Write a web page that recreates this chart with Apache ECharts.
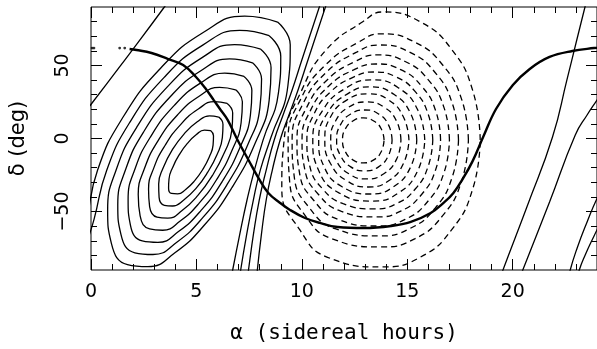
<!DOCTYPE html>
<html>
<head>
<meta charset="utf-8">
<script src="https://cdn.jsdelivr.net/npm/echarts@6/dist/echarts.min.js"></script>
<style>
html,body{margin:0;padding:0;background:#fff;}
#chart{width:597px;height:349px;}
</style>
</head>
<body>
<div id="chart"></div>
<script>
// Tick positions
const raMajor = [0, 5, 10, 15, 20];
const raMinor = [1, 2, 3, 4, 6, 7, 8, 9, 11, 12, 13, 14, 16, 17, 18, 19, 21, 22, 23];
const decMajor = [-50, 0, 50];
const decMinor = [-80, -70, -60, -40, -30, -20, -10, 10, 20, 30, 40, 60, 70, 80];

// Positive levels (solid), points as [alpha (h), delta (deg)], innermost first
const pos1 = [[5.67,5.4],[5.81,1.8],[5.79,-4.5],[5.61,-12.6],[5.30,-21.2],[4.91,-29.0],[4.49,-34.9],[4.11,-37.9],[3.82,-37.6],[3.68,-34.0],[3.70,-27.7],[3.88,-19.6],[4.19,-11.0],[4.58,-3.2],[5.00,2.7],[5.38,5.7]];
const pos2 = [[6.06,14.7],[6.26,9.6],[6.23,0.6],[5.98,-10.9],[5.53,-23.2],[4.99,-34.0],[4.40,-42.1],[3.87,-46.2],[3.48,-45.7],[3.23,-40.3],[3.21,-31.2],[3.43,-19.9],[3.85,-7.9],[4.42,3.2],[5.04,11.4],[5.62,15.5]];
const pos3 = [[6.46,24.0],[6.72,17.4],[6.68,5.7],[6.34,-9.3],[5.76,-25.3],[5.06,-39.1],[4.32,-49.3],[3.64,-54.5],[3.13,-53.8],[2.78,-46.6],[2.73,-34.8],[2.98,-20.1],[3.51,-4.8],[4.26,9.7],[5.09,20.2],[5.86,25.2]];
const pos4 = [[6.86,33.3],[7.18,25.2],[7.12,10.8],[6.70,-7.7],[5.99,-27.4],[5.14,-44.1],[4.23,-56.5],[3.40,-62.8],[2.78,-61.9],[2.33,-53.0],[2.24,-38.4],[2.54,-20.4],[3.17,-1.8],[4.10,16.1],[5.13,28.9],[6.10,35.0]];
const pos5 = [[7.26,42.5],[7.63,32.9],[7.56,15.9],[7.07,-6.0],[6.22,-29.5],[5.22,-49.2],[4.15,-63.7],[3.17,-71.1],[2.43,-70.1],[1.87,-59.3],[1.76,-41.9],[2.09,-20.7],[2.83,1.3],[3.94,22.5],[5.17,37.7],[6.34,44.8]];
const pos6 = [[7.66,51.8],[8.09,40.7],[8.01,21.0],[7.43,-4.4],[6.45,-31.6],[5.30,-54.2],[4.07,-71.0],[2.94,-79.4],[2.08,-78.2],[1.42,-65.6],[1.27,-45.5],[1.65,-20.9],[2.49,4.4],[3.78,28.9],[5.21,46.4],[6.57,54.5]];
const pos7 = [[8.05,61.1],[8.54,48.5],[8.45,26.1],[7.80,-2.8],[6.68,-33.7],[5.38,-59.2],[3.98,-78.2],[2.70,-87.7],[1.73,-86.3],[0.97,-71.9],[0.79,-49.1],[1.20,-21.2],[2.16,7.5],[3.62,35.3],[5.25,55.2],[6.81,64.3]];
const pos8 = [[8.45,70.4],[9.00,56.3],[8.89,31.2],[8.16,-1.1],[7.75,-21.6],[7.40,-42.1],[7.05,-66.0],[6.72,-90.0],[6.50,-106],[2.0,-110],[-0.6,-105],[-0.3,-78],[0.15,-55],[0.75,-21.5],[1.82,10.6],[3.46,41.7],[5.30,63.9],[7.05,74.0]];
const pos9 = [[8.85,79.7],[9.45,64.1],[9.34,36.3],[8.53,0.5],[8.03,-21.6],[7.70,-42.1],[7.38,-66.0],[7.10,-90.0],[6.95,-106],[2.0,-115],[-1.2,-110],[-0.8,-85],[-0.25,-58],[0.31,-21.7],[1.48,13.7],[3.30,48.1],[5.34,72.7],[7.29,83.8]];

// Outer positive levels that run across the frame edges
const ridgeA = [[10.94,94.8],[10.47,74.3],[10.00,53.7],[9.54,33.2],[9.11,16.1],[8.69,-1.0],[8.31,-21.6],[7.98,-42.1],[7.70,-66.0],[7.47,-90.0],[7.37,-100.3]];
const ridgeB = [[11.23,94.8],[10.76,74.3],[10.29,53.7],[9.82,33.2],[9.39,16.1],[8.97,-1.0],[8.60,-21.6],[8.31,-42.1],[8.08,-66.0],[7.89,-90.0],[7.84,-100.3]];
const outerWest = [[4.04,101.6],[3.48,90.0],[1.78,57.1],[0.05,24.3],[-0.42,16.1]];
const outerEast1 = [[23.63,101.6],[23.43,90.0],[23.04,67.4],[22.57,40.0],[21.89,1.0],[20.71,-45.5],[19.54,-90.0],[19.21,-103.7]];
const outerEast2 = [[24.57,38.7],[24.00,26.3],[23.53,16.1],[22.97,2.4],[21.75,-43.5],[20.48,-90.0],[20.15,-102.3]];
const wrapEast9 = [[24.24,-35.2],[24.00,-41.0],[23.53,-57.1],[23.06,-74.9],[22.73,-90.0],[22.59,-100.3]];
const wrapEast8 = [[24.19,-57.1],[23.86,-66.7],[23.44,-79.7],[23.16,-90.0],[23.06,-96.8]];

// Negative levels (dashed), innermost first
const neg1 = [[13.90,-1],[13.77,6.5],[13.41,12.0],[12.92,14.1],[12.42,12.0],[12.06,6.5],[11.93,-1],[12.06,-8.9],[12.42,-14.6],[12.92,-16.7],[13.41,-14.6],[13.77,-8.9]];
const neg2 = [[14.28,-1],[14.11,9.3],[13.64,16.8],[13.00,19.5],[12.32,16.8],[11.83,9.3],[11.65,-1],[11.83,-11.6],[12.32,-19.4],[13.00,-22.2],[13.64,-19.4],[14.11,-11.6]];
const neg3 = [[14.70,-1],[14.49,12.0],[13.89,21.5],[13.09,25.0],[12.23,21.5],[11.60,12.0],[11.37,-1],[11.60,-14.3],[12.23,-24.1],[13.09,-27.7],[13.89,-24.1],[14.49,-14.3]];
const neg4 = [[15.08,-1],[14.82,14.7],[14.12,26.3],[13.17,30.5],[12.13,26.3],[11.36,14.7],[11.09,-1],[11.36,-17.1],[12.13,-28.9],[13.17,-33.2],[14.12,-28.9],[14.82,-17.1]];
const neg5 = [[15.45,-1],[15.16,17.1],[14.35,30.4],[13.26,35.3],[12.15,30.4],[11.20,17.1],[10.80,-1],[11.06,-19.5],[11.91,-33.0],[13.26,-38.0],[14.35,-33.0],[15.16,-19.5]];
const neg6 = [[15.83,-1],[15.50,19.5],[14.59,34.6],[13.34,40.1],[12.10,34.6],[11.00,19.5],[10.52,-1],[10.80,-21.9],[11.76,-37.2],[13.34,-42.8],[14.59,-37.2],[15.50,-21.9]];
const neg7 = [[16.21,-1],[15.99,16.8],[15.39,31.9],[14.49,42.0],[13.42,45.5],[12.45,42.0],[11.36,31.9],[10.58,16.8],[10.24,-1],[10.38,-19.1],[10.98,-34.4],[11.96,-44.6],[13.42,-48.2],[14.49,-44.6],[15.39,-34.4],[15.99,-19.1]];
const neg8 = [[16.58,-1],[16.35,18.9],[15.68,35.8],[14.69,47.1],[13.51,51.0],[12.48,47.1],[11.27,35.8],[10.40,18.9],[10.01,-1],[10.14,-21.2],[10.79,-38.3],[11.85,-49.7],[13.51,-53.7],[14.69,-49.7],[15.68,-38.3],[16.35,-21.2]];
const neg9 = [[17.00,-1],[16.74,21.3],[16.00,40.1],[14.90,52.7],[13.59,57.2],[12.53,52.7],[11.20,40.1],[10.23,21.3],[9.77,-1],[9.89,-23.5],[10.58,-42.6],[11.72,-55.4],[13.59,-59.9],[14.90,-55.4],[16.00,-42.6],[16.74,-23.5]];
const neg10 = [[17.43,-1],[17.14,23.9],[16.33,45.0],[15.11,59.1],[13.68,64.0],[12.60,59.1],[11.14,45.0],[10.06,23.9],[9.54,-1],[9.64,-26.1],[10.36,-47.5],[11.58,-61.7],[13.68,-66.7],[15.11,-61.7],[16.33,-47.5],[17.14,-26.1]];
const neg11 = [[17.90,-1],[17.58,26.8],[16.68,50.3],[15.35,66.0],[13.76,71.6],[12.70,66.0],[11.12,50.3],[9.94,26.8],[9.35,-1],[9.42,-29.1],[10.16,-52.8],[11.44,-68.7],[13.76,-74.2],[15.35,-68.7],[16.68,-52.8],[17.58,-29.1]];
const neg12 = [[18.46,-1],[18.11,32.6],[17.11,60.9],[15.61,79.9],[13.85,86.6],[12.89,79.9],[11.17,60.9],[9.98,32.6],[9.16,-1],[9.05,-34.3],[9.90,-62.4],[11.22,-81.3],[13.85,-87.9],[15.61,-81.3],[17.11,-62.4],[18.11,-34.3]];

// Galactic plane
const galSparse = [[0.05,61.9],[0.14,61.9],[1.36,61.9],[1.60,61.9]];
const galPlane = [[1.83,61.3],[2.16,60.6],[2.87,58.5],[3.66,54.4],[4.37,50.3],[4.98,42.1],[5.45,33.9],[5.82,26.3],[6.15,19.5],[6.48,12.7],[6.95,-1.0],[7.47,-14.7],[7.94,-27.0],[8.41,-37.3],[8.97,-44.1],[9.44,-48.9],[10.15,-54.4],[10.85,-57.8],[11.70,-60.6],[12.96,-61.3],[14.23,-59.9],[15.17,-57.1],[16.11,-51.0],[16.72,-44.1],[17.19,-37.3],[17.66,-27.0],[18.10,-15.5],[18.60,1.0],[19.21,20.2],[20.01,36.6],[20.81,47.6],[21.75,55.8],[22.83,59.9],[23.86,61.9],[24.0,62.0]];

const closedSolid = [pos1, pos2, pos3, pos4, pos5, pos6, pos7, pos8, pos9];
const openSolid = [ridgeA, ridgeB, outerWest, outerEast1, outerEast2, wrapEast9, wrapEast8];
const closedDashed = [neg1, neg2, neg3, neg4, neg5, neg6, neg7, neg8, neg9, neg10, neg11, neg12];

const FONT = 'DejaVu Sans';
const INK = '#000';

function contour(pts, closed, dashed) {
  return {
    type: 'line',
    data: closed ? pts.concat([pts[0]]) : pts,
    smooth: 0.5,
    showSymbol: false,
    clip: true,
    silent: true,
    lineStyle: { color: INK, width: 1.3, type: dashed ? [6, 4] : 'solid' },
    z: 2
  };
}

const series = [];
closedSolid.forEach(p => series.push(contour(p, true, false)));
openSolid.forEach(p => series.push(contour(p, false, false)));
closedDashed.forEach(p => series.push(contour(p, true, true)));
series.push({
  type: 'line', data: galPlane, smooth: 0.4, showSymbol: false, silent: true,
  lineStyle: { color: INK, width: 2.4 }, z: 3
});
series.push({
  type: 'scatter', data: galSparse, symbol: 'circle', symbolSize: 2.8, silent: true,
  itemStyle: { color: INK }, z: 3
});

// Typographic minus for negative tick labels
const signed = v => (v < 0 ? '\u2212' + Math.abs(v) : String(v));

function xAxis(pos, ticks, len, labels, name) {
  return {
    type: 'value', min: 0, max: 24, position: pos,
    axisLine: { show: false, onZero: false },
    axisTick: { show: true, inside: true, length: len, customValues: ticks, lineStyle: { color: INK, width: 1 } },
    axisLabel: labels ? { show: true, customValues: labels, margin: 13, color: INK, fontSize: 19, fontFamily: FONT, formatter: signed } : { show: false },
    splitLine: { show: false },
    name: name || '', nameLocation: 'middle', nameGap: 53,
    nameTextStyle: { color: INK, fontSize: 21, fontFamily: 'DejaVu Sans Mono' }
  };
}
function yAxis(pos, ticks, len, labels, name) {
  return {
    type: 'value', min: -90, max: 90, position: pos,
    axisLine: { show: false, onZero: false },
    axisTick: { show: true, inside: true, length: len, customValues: ticks, lineStyle: { color: INK, width: 1 } },
    axisLabel: labels ? { show: true, customValues: labels, rotate: 90, margin: 18, color: INK, fontSize: 19, fontFamily: FONT, formatter: signed } : { show: false },
    splitLine: { show: false },
    name: name || '', nameLocation: 'middle', nameGap: 62, nameRotate: 90,
    nameTextStyle: { color: INK, fontSize: 21, fontFamily: FONT }
  };
}

const chart = echarts.init(document.getElementById('chart'), null, { renderer: 'canvas' });
chart.setOption({
  backgroundColor: '#fff',
  animation: false,
  grid: { left: 89, top: 7, width: 511, height: 263, show: true, borderColor: INK, borderWidth: 1, backgroundColor: 'transparent' },
  xAxis: [
    xAxis('bottom', raMajor, 11, raMajor, 'α (sidereal hours)'),
    xAxis('bottom', raMinor, 6, null),
    xAxis('top', raMajor, 11, null),
    xAxis('top', raMinor, 6, null)
  ],
  yAxis: [
    yAxis('left', decMajor, 11, decMajor, 'δ (deg)'),
    yAxis('left', decMinor, 6, null),
    yAxis('right', decMajor, 11, null),
    yAxis('right', decMinor, 6, null)
  ],
  series: series
});
</script>
</body>
</html>
